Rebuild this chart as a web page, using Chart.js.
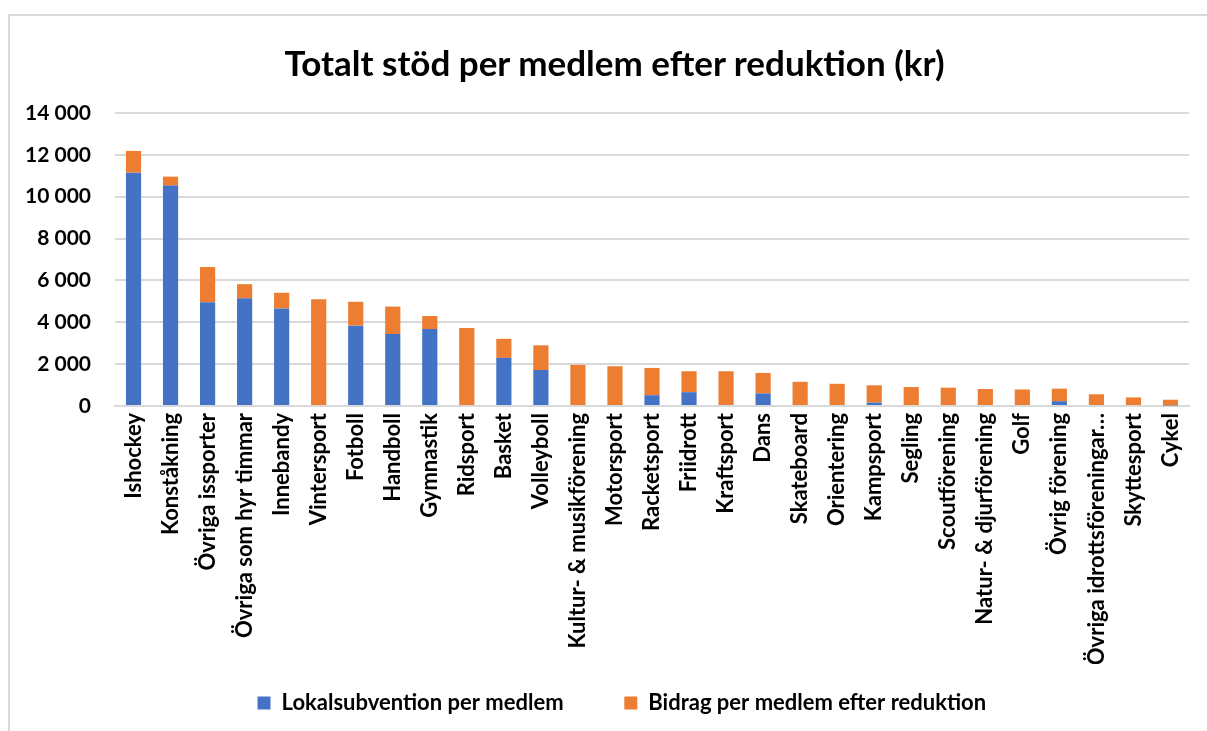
<!DOCTYPE html>
<html><head><meta charset="utf-8">
<script src="https://cdn.jsdelivr.net/npm/chart.js@4.4.0/dist/chart.umd.min.js"></script>
<style>
html,body{margin:0;padding:0;background:#fff;overflow:hidden;}
#frame{position:absolute;left:8px;top:14px;width:1300px;height:900px;border-top:2px solid #d9d9d9;border-left:2px solid #d9d9d9;}
#c{position:absolute;left:0;top:0;}
#title{position:absolute;left:0;top:38px;width:1229px;text-align:center;margin:0;font:bold 35px Lato;color:#000;line-height:48px;}
</style></head>
<body>
<div id="frame"></div>
<canvas id="c" width="1207" height="731"></canvas>
<h1 id="title"></h1>
<script>
const categories = ["Ishockey","Konståkning","Övriga issporter","Övriga som hyr timmar","Innebandy","Vintersport","Fotboll","Handboll","Gymnastik","Ridsport","Basket","Volleyboll","Kultur- & musikförening","Motorsport","Racketsport","Friidrott","Kraftsport","Dans","Skateboard","Orientering","Kampsport","Segling","Scoutförening","Natur- & djurförening","Golf","Övrig förening","Övriga idrottsföreningar…","Skyttesport","Cykel"];
const lokalsubvention = [11150,10530,4960,5150,4660,0,3840,3440,3680,0,2300,1720,0,0,515,660,50,600,0,0,165,0,0,0,0,230,0,0,30];
const bidrag = [1040,430,1680,670,750,5100,1140,1310,620,3725,910,1180,1965,1900,1305,1000,1610,980,1155,1060,825,905,875,810,790,600,560,410,270];
const yTicks = [0,2000,4000,6000,8000,10000,12000,14000];
const seriesNames = ["Lokalsubvention per medlem","Bidrag per medlem efter reduktion"];
const title = "Totalt stöd per medlem efter reduktion (kr)";

document.getElementById('title').textContent = title;

const FONT = "Lato";
const fmt = v => String(v).replace(/\B(?=(\d{3})+(?!\d))/g, " ");
const legendTrail = ["\u2002\u2002\u00A0\u00A0", "\u2002\u2002\u2002\u2002\u2002\u00A0"];

new Chart(document.getElementById('c'), {
  type: 'bar',
  data: {
    labels: categories,
    datasets: [
      {label: seriesNames[0], data: lokalsubvention, backgroundColor: '#4472C4', categoryPercentage: 1, barPercentage: 0.41},
      {label: seriesNames[1], data: bidrag, backgroundColor: '#ED7D31', categoryPercentage: 1, barPercentage: 0.41}
    ]
  },
  options: {
    responsive: false,
    animation: false,
    layout: {padding: {left: 0, right: 18, top: 113, bottom: 7}},
    plugins: {
      title: {display: false},
      legend: {
        position: 'bottom', fullSize: false,
        labels: {
          color: '#000', boxWidth: 13, boxHeight: 13, padding: 28,
          font: {family: FONT, size: 22, weight: 'bold'},
          generateLabels: chart => {
            const items = Chart.defaults.plugins.legend.labels.generateLabels(chart);
            items.forEach((it, i) => { it.text = it.text + legendTrail[i]; it.lineWidth = 0; });
            return items;
          }
        }
      },
      tooltip: {enabled: false}
    },
    scales: {
      x: {
        stacked: true,
        grid: {display: false, drawTicks: false},
        border: {display: true, color: '#d9d9d9', width: 2},
        ticks: {color: '#000', minRotation: 90, maxRotation: 90, autoSkip: false, padding: 7, font: {family: FONT, size: 22, weight: 'bold'}},
        afterFit: s => { s.height = 258; }
      },
      y: {
        stacked: true,
        min: 0, max: 14000,
        afterBuildTicks: s => { s.ticks = yTicks.map(v => ({value: v})); },
        grid: {color: '#d9d9d9', lineWidth: 2, drawTicks: false},
        border: {display: false},
        ticks: {color: '#000', padding: 24, callback: v => fmt(v), font: {family: FONT, size: 21, weight: 'bold'}},
        afterFit: s => { s.width = 115; }
      }
    }
  }
});
</script>
</body></html>
